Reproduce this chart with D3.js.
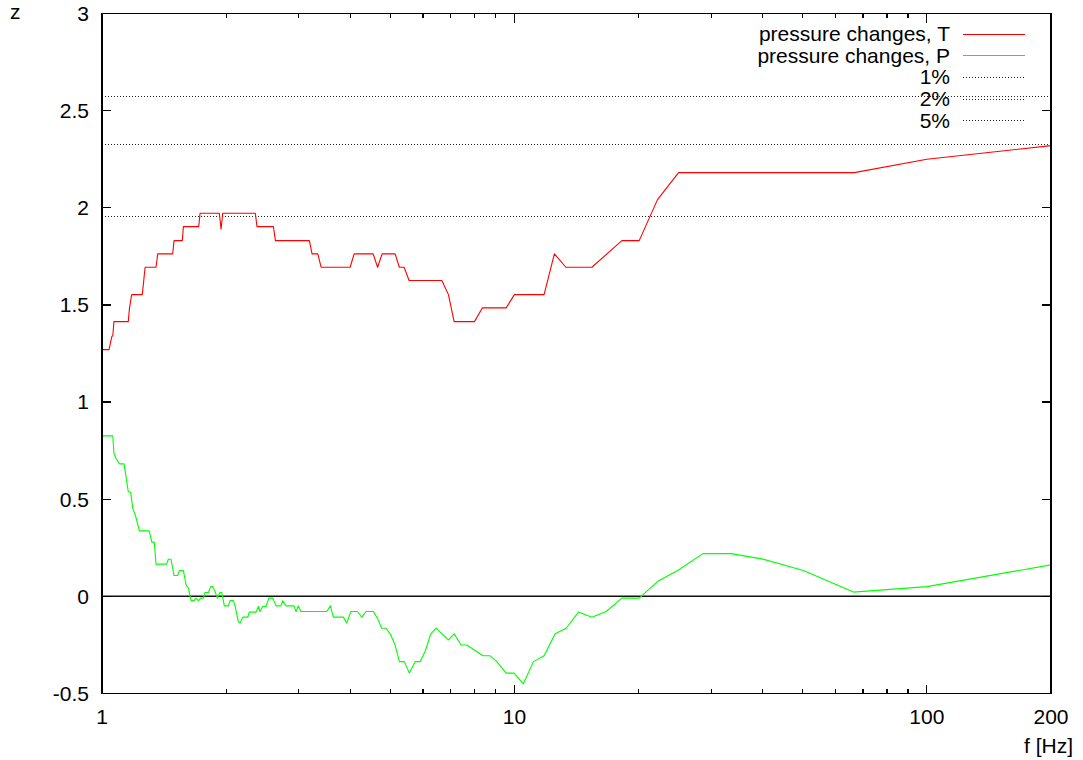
<!DOCTYPE html>
<html>
<head>
<meta charset="utf-8">
<script src="https://cdn.jsdelivr.net/npm/d3@7"></script>
<style>
  body { margin: 0; background: #fff; }
  svg { display: block; font-family: "Liberation Sans", Arial, sans-serif; }
</style>
</head>
<body>
<div id="chart"></div>
<script>
// pressure changes, T  (frequency in Hz, z value)
const freqT = [1.0, 1.040, 1.057, 1.062, 1.069, 1.158, 1.166, 1.180, 1.252, 1.262,
  1.272, 1.352, 1.365, 1.484, 1.495, 1.566, 1.575, 1.716, 1.729, 1.925,
  1.944, 1.962, 2.354, 2.376, 2.604, 2.633, 3.183, 3.231, 3.336, 3.398,
  3.996, 4.087, 4.543, 4.659, 4.777, 5.136, 5.260, 5.400, 5.554, 6.668,
  6.918, 7.142, 8.000, 8.365, 9.548, 10.0, 11.80, 12.50, 13.33, 15.41,
  18.22, 20.07, 22.23, 25.0, 66.7, 100, 200];
const zT = [1.27, 1.27, 1.34, 1.34, 1.414, 1.414, 1.485, 1.553, 1.553, 1.622,
  1.694, 1.694, 1.763, 1.763, 1.831, 1.831, 1.903, 1.903, 1.972, 1.972,
  1.89, 1.972, 1.972, 1.903, 1.903, 1.831, 1.831, 1.763, 1.763, 1.694,
  1.694, 1.763, 1.763, 1.694, 1.763, 1.763, 1.694, 1.694, 1.626, 1.626,
  1.553, 1.414, 1.414, 1.485, 1.485, 1.553, 1.553, 1.763, 1.694, 1.694,
  1.831, 1.831, 2.042, 2.181, 2.181, 2.25, 2.32];

// pressure changes, P
const freqP = [1.0, 1.062, 1.069, 1.081, 1.102, 1.131, 1.158, 1.174, 1.187, 1.207,
  1.232, 1.302, 1.320, 1.339, 1.352, 1.435, 1.448, 1.470, 1.495, 1.526,
  1.540, 1.575, 1.599, 1.620, 1.644, 1.672, 1.690, 1.712, 1.735, 1.761,
  1.778, 1.811, 1.835, 1.856, 1.880, 1.904, 1.933, 1.951, 1.980, 2.025,
  2.044, 2.082, 2.102, 2.141, 2.161, 2.194, 2.256, 2.276, 2.363, 2.394,
  2.416, 2.453, 2.499, 2.537, 2.594, 2.642, 2.713, 2.744, 2.795, 2.922,
  2.954, 2.993, 3.033, 3.508, 3.579, 3.639, 3.848, 3.922, 4.011, 4.161,
  4.265, 4.368, 4.550, 4.653, 4.768, 4.884, 5.013, 5.135, 5.260, 5.409,
  5.562, 5.742, 5.905, 6.072, 6.269, 6.458, 6.918, 7.142, 7.426, 7.667,
  8.384, 8.732, 9.064, 9.548, 9.98, 10.51, 11.12, 11.80, 12.55, 13.35,
  14.30, 15.41, 16.69, 18.22, 20.07, 22.23, 25.0, 28.64, 33.48, 39.8,
  50.2, 66.4, 100, 200];
const zP = [0.826, 0.826, 0.737, 0.711, 0.682, 0.682, 0.539, 0.534, 0.454, 0.411,
  0.337, 0.337, 0.279, 0.279, 0.166, 0.166, 0.191, 0.191, 0.107, 0.107,
  0.133, 0.133, 0.059, 0.042, -0.022, -0.022, -0.009, -0.022, -0.009, -0.009,
  0.02, 0.02, 0.05, 0.05, 0.025, -0.009, 0.02, 0.02, -0.049, -0.049,
  -0.022, -0.022, -0.049, -0.130, -0.138, -0.107, -0.107, -0.081, -0.081, -0.052,
  -0.078, -0.052, -0.052, -0.009, -0.009, -0.049, -0.049, -0.023, -0.049, -0.049,
  -0.078, -0.049, -0.078, -0.078, -0.049, -0.107, -0.107, -0.138, -0.078, -0.078,
  -0.107, -0.078, -0.078, -0.112, -0.164, -0.164, -0.198, -0.250, -0.336, -0.336,
  -0.395, -0.336, -0.336, -0.284, -0.193, -0.164, -0.224, -0.193, -0.250, -0.250,
  -0.306, -0.306, -0.336, -0.395, -0.395, -0.450, -0.336, -0.306, -0.193, -0.164,
  -0.081, -0.107, -0.078, -0.009, -0.009, 0.076, 0.136, 0.220, 0.220, 0.193,
  0.133, 0.022, 0.050, 0.162];

// significance levels
const levelNames = ["1%", "2%", "5%"];
const levelValues = [2.576, 2.326, 1.960];

const seriesNames = ["pressure changes, T", "pressure changes, P"];
const seriesColors = ["#ff0000", "#00ff00"];

const xTicks = [1, 10, 100, 200];
const xTickLabels = ["1", "10", "100", "200"];
const yTicks = [-0.5, 0, 0.5, 1, 1.5, 2, 2.5, 3];
const yTickLabels = ["-0.5", "0", "0.5", "1", "1.5", "2", "2.5", "3"];

const W = 1083, H = 760;
const plot = {left: 102, right: 1051, top: 13.5, bottom: 693.5};
const fontSize = 21;

let svg = d3.select("#chart").append("svg")
  .attr("width", W)
  .attr("height", H);

let x = d3.scaleLog().domain([1, 200]).range([plot.left, plot.right]);
let y = d3.scaleLinear().domain([-0.5, 3]).range([plot.bottom, plot.top]);

// minor x ticks: 2..9 in each decade
let minorX = [];
[1, 10, 100].forEach(dec => {
  for (let k = 2; k <= 9; k++) {
    let v = dec * k;
    if (v < 200 && v !== 10 && v !== 100) minorX.push(v);
  }
});

svg.append("defs").append("clipPath").attr("id", "plotclip")
  .append("rect")
  .attr("x", plot.left).attr("y", plot.top)
  .attr("width", plot.right - plot.left).attr("height", plot.bottom - plot.top);

// dotted significance lines
svg.append("g")
  .selectAll("line")
  .data(levelValues)
  .join("line")
  .attr("x1", plot.left).attr("x2", plot.right)
  .attr("y1", d => Math.round(y(d)) + 0.5).attr("y2", d => Math.round(y(d)) + 0.5)
  .attr("stroke", "#222")
  .attr("stroke-width", 1)
  .attr("stroke-dasharray", "1,2");

// zero axis
svg.append("line")
  .attr("x1", plot.left).attr("x2", plot.right)
  .attr("y1", y(0)).attr("y2", y(0))
  .attr("stroke", "#111")
  .attr("stroke-width", 1.5);

// data lines
let line = d3.line()
  .x(d => x(d[0]))
  .y(d => y(d[1]));

let dataT = freqT.map((f, i) => [f, zT[i]]);
let dataP = freqP.map((f, i) => [f, zP[i]]);

svg.append("g").attr("clip-path", "url(#plotclip)")
  .selectAll("path")
  .data([dataT, dataP])
  .join("path")
  .attr("fill", "none")
  .attr("stroke", (d, i) => seriesColors[i])
  .attr("stroke-width", 1.1)
  .attr("stroke-linejoin", "round")
  .attr("d", line);

// ticks (inward, mirrored)
let ticks = svg.append("g")
  .attr("stroke", "#000")
  .attr("stroke-width", 1.3)
  .attr("shape-rendering", "crispEdges");

xTicks.forEach(v => {
  ticks.append("line").attr("x1", x(v)).attr("x2", x(v)).attr("y1", plot.bottom).attr("y2", plot.bottom - 9);
  ticks.append("line").attr("x1", x(v)).attr("x2", x(v)).attr("y1", plot.top).attr("y2", plot.top + 9);
});
minorX.forEach(v => {
  ticks.append("line").attr("x1", x(v)).attr("x2", x(v)).attr("y1", plot.bottom).attr("y2", plot.bottom - 4.5);
  ticks.append("line").attr("x1", x(v)).attr("x2", x(v)).attr("y1", plot.top).attr("y2", plot.top + 4.5);
});
yTicks.forEach(v => {
  ticks.append("line").attr("x1", plot.left).attr("x2", plot.left + 9).attr("y1", y(v)).attr("y2", y(v));
  ticks.append("line").attr("x1", plot.right).attr("x2", plot.right - 9).attr("y1", y(v)).attr("y2", y(v));
});

// frame
svg.append("rect")
  .attr("x", plot.left).attr("y", plot.top)
  .attr("width", plot.right - plot.left).attr("height", plot.bottom - plot.top)
  .attr("fill", "none")
  .attr("stroke", "#000")
  .attr("stroke-width", 1.6)
  .attr("shape-rendering", "crispEdges");

// tick labels
svg.append("g")
  .selectAll("text")
  .data(yTicks)
  .join("text")
  .attr("x", 89)
  .attr("y", d => y(d))
  .attr("dy", "0.35em")
  .attr("text-anchor", "end")
  .attr("font-size", fontSize)
  .text((d, i) => yTickLabels[i]);

svg.append("g")
  .selectAll("text")
  .data(xTicks)
  .join("text")
  .attr("x", d => x(d))
  .attr("y", 717)
  .attr("dy", "0.35em")
  .attr("text-anchor", "middle")
  .attr("font-size", fontSize)
  .text((d, i) => xTickLabels[i]);

// axis titles
svg.append("text")
  .attr("x", 10).attr("y", 12).attr("dy", "0.35em")
  .attr("font-size", fontSize)
  .text("z");

svg.append("text")
  .attr("x", 1073).attr("y", 746).attr("dy", "0.35em")
  .attr("text-anchor", "end")
  .attr("font-size", fontSize)
  .text("f [Hz]");

// legend
let legendItems = seriesNames.map((n, i) => ({name: n, color: seriesColors[i], dash: null}))
  .concat(levelNames.map(n => ({name: n, color: "#222", dash: "1,2"})));

let legend = svg.append("g");
legendItems.forEach((d, i) => {
  let ly = 33.5 + i * 21.7;
  legend.append("text")
    .attr("x", 950).attr("y", ly).attr("dy", "0.35em")
    .attr("text-anchor", "end")
    .attr("font-size", fontSize)
    .text(d.name);
  legend.append("line")
    .attr("x1", 963).attr("x2", 1025)
    .attr("y1", Math.round(ly) + 0.5).attr("y2", Math.round(ly) + 0.5)
    .attr("stroke", d.color)
    .attr("stroke-width", 1)
    .attr("stroke-dasharray", d.dash);
});
</script>
</body>
</html>
